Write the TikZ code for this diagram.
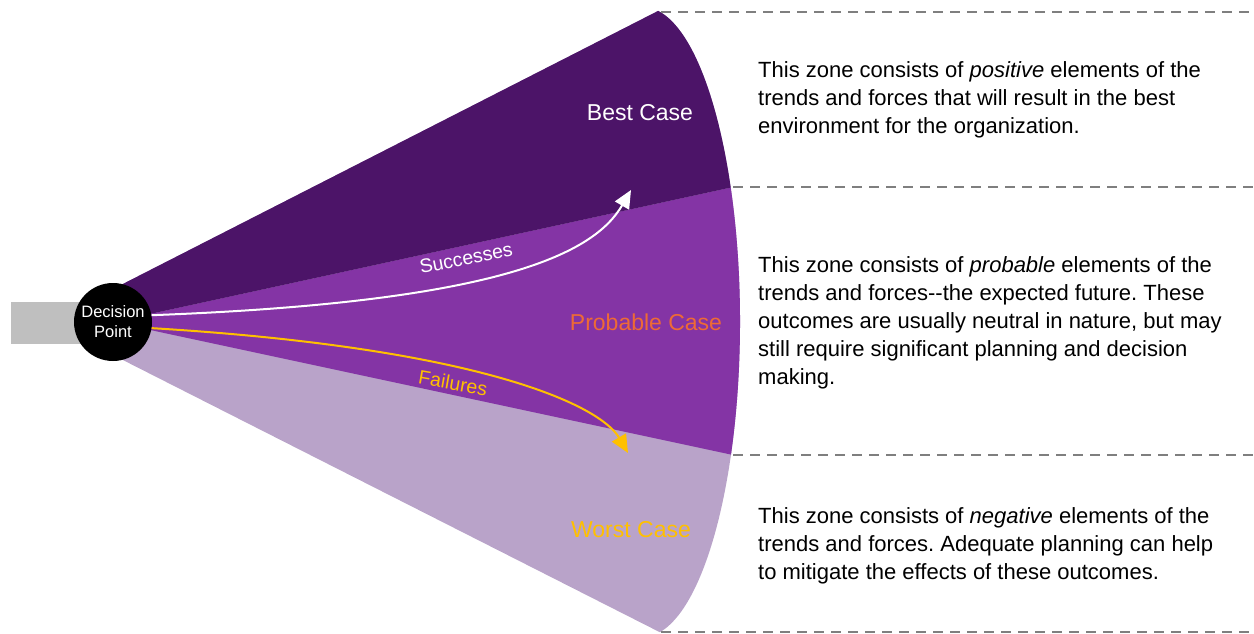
\documentclass[tikz,border=0pt]{standalone}
\usepackage{fontspec}
\setmainfont{Liberation Sans}
\usetikzlibrary{arrows.meta,calc}
\frenchspacing

\definecolor{bestc}{HTML}{4C1468}
\definecolor{probc}{HTML}{8434A5}
\definecolor{worstc}{HTML}{B9A3C9}
\definecolor{stemc}{HTML}{BFBFBF}
\definecolor{orangec}{HTML}{EE6A35}
\definecolor{goldc}{HTML}{FFC000}
\definecolor{dashc}{HTML}{7F7F7F}

\tikzset{
  zoneline/.style={draw=dashc, line width=1.4pt, dash pattern=on 10pt off 7pt},
  zonetext/.style={anchor=west, align=left, inner sep=0pt, text=black,
                   font=\fontsize{22}{28}\selectfont},
  caselabel/.style={inner sep=0pt, font=\fontsize{23}{26}\selectfont},
  pathlabel/.style={inner sep=0pt, font=\fontsize{19.5}{22}\selectfont},
  trail/.style={line width=2pt, -{Triangle[length=18pt,width=16pt]}},
}

\begin{document}
\begin{tikzpicture}[x=1pt, y=-1pt]
\useasboundingbox (0,0) rectangle (1254,633);

% stem behind the decision point
\fill[stemc] (11,302) rectangle (113,344);

% cone of futures, split into three zones
\begin{scope}
  \clip (113,289) -- ($(643,322)+(-81:97 and 315)$)
        arc[start angle=-81, end angle=80, x radius=97, y radius=315]
        -- (113,355) -- cycle;
  \fill[worstc] (0,-50) rectangle (900,700);
  \fill[probc] (113,322) -- (900,150.7) -- (900,490.8) -- cycle;
  \fill[bestc] (113,322) -- (900,150.7) -- (900,-50) -- (0,-50) -- (0,322) -- cycle;
\end{scope}

% zone boundaries
\coordinate (b0) at (661,12);   \coordinate (e0) at (1254,12);
\coordinate (b1) at (733,187);  \coordinate (e1) at (1254,187);
\coordinate (b2) at (733,455);  \coordinate (e2) at (1254,455);
\coordinate (b3) at (661,632);  \coordinate (e3) at (1254,632);
\draw[zoneline] (b0) -- (e0);
\draw[zoneline] (b1) -- (e1);
\draw[zoneline] (b2) -- (e2);
\draw[zoneline] (b3) -- (e3);

% decision point
\node[circle, fill=black, minimum size=78pt, inner sep=0pt, text=white,
      align=center, font=\fontsize{16.5}{20}\selectfont] (dp) at (113,322)
      {Decision\\Point};

% success and failure trails
\coordinate (sEnd) at (631,190);
\coordinate (fEnd) at (628,453);
\draw[trail, white] (dp.10) .. controls (505,302) and (595,252) .. (sEnd);
\draw[trail, goldc] (dp.-9) .. controls (480,348) and (600,405) .. (fEnd);
\node[pathlabel, text=white, rotate=11] (succ) at (466,258) {Successes};
\node[pathlabel, text=goldc, rotate=-10] (fail) at (453,383) {Failures};

% zone names
\node[caselabel, text=white] (best) at (640,113) {Best Case};
\node[caselabel, text=orangec] (prob) at (646,322) {Probable Case};
\node[caselabel, text=goldc] (worst) at (631,530) {Worst Case};

% zone descriptions
\node[zonetext] (dbest) at (758,100) {This zone consists of \emph{positive} elements of the\\
  trends and forces that will result in the best\\
  environment for the organization.};
\node[zonetext] (dprob) at (758,323) {This zone consists of \emph{probable} elements of the\\
  trends and forces-{}-the expected future. These\\
  outcomes are usually neutral in nature, but may\\
  still require significant planning and decision\\
  making.};
\node[zonetext] (dworst) at (758,546) {This zone consists of \emph{negative} elements of the\\
  trends and forces. Adequate planning can help\\
  to mitigate the effects of these outcomes.};
\end{tikzpicture}
\end{document}
